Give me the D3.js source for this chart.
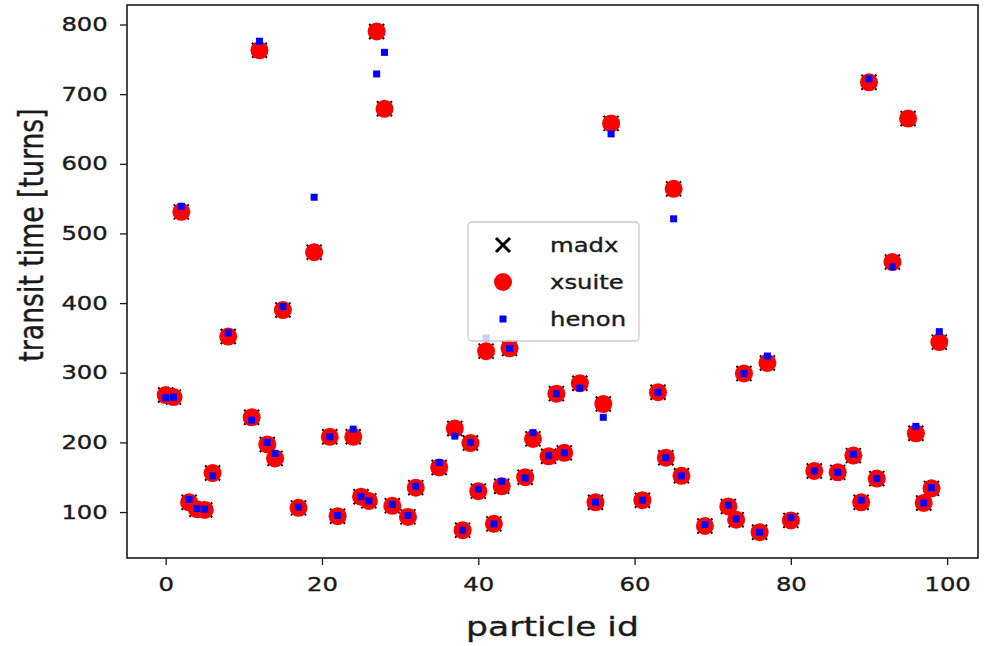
<!DOCTYPE html>
<html>
<head>
<meta charset="utf-8">
<script src="https://cdn.jsdelivr.net/npm/d3@7"></script>
<style>
  body { margin: 0; background: #fff; }
  text { font-family: "DejaVu Sans", sans-serif; fill: #1a1a1a; stroke: #1a1a1a; stroke-width: 0.35px; }
</style>
</head>
<body>
<script>
'use strict';

var width  = 984;
var height = 646;

// lost particles: id, turn of loss per code
var ids    = [0, 1, 2, 3, 4, 5, 6, 8, 11, 12, 13, 14, 15, 17, 19, 21, 22, 24, 25, 26,
              27, 28, 29, 31, 32, 35, 37, 38, 39, 40, 41, 42, 43, 44, 46, 47, 49, 50, 51, 53,
              55, 56, 57, 61, 63, 64, 65, 66, 69, 72, 73, 74, 76, 77, 80, 83, 86, 88, 89, 90,
              91, 93, 95, 96, 97, 98, 99];
var xsuite = [268, 265, 531, 114, 104, 103, 156, 352, 236, 763, 197, 177, 390, 106, 473, 208, 94, 208, 122, 116,
              790, 679, 109, 93, 135, 164, 220, 74, 199, 130, 331, 83, 137, 335, 150, 205, 180, 270, 185, 285,
              114, 255, 658, 117, 272, 178, 564, 152, 80, 108, 89, 299, 71, 314, 88, 159, 157, 181, 114, 717,
              148, 459, 665, 213, 113, 134, 344];
var madx   = xsuite.slice();
var henon  = [264, 265, 539, 118, 105, 104, 152, 357, 232, 776, 200, 184, 395, 107, 552, 208, 95, 219, 122, 116,
              729, 760, 111, 95, 137, 171, 209, 74, 200, 133, 350, 83, 144, 335, 149, 214, 181, 270, 185, 278,
              114, 236, 643, 117, 272, 178, 521, 152, 82, 110, 90, 299, 71, 324, 92, 159, 157, 183, 117, 722,
              148, 452, null, 223, 113, 135, 359];

var xTicks = [0, 20, 40, 60, 80, 100];
var yTicks = [100, 200, 300, 400, 500, 600, 700, 800];
var series = ['madx', 'xsuite', 'henon'];

var plot = { left: 127, right: 978, top: 5, bottom: 558 };
var stretch = 1.28;   // text in the picture is drawn wide

var x = d3.scaleLinear().domain([-4.95, 103.95]).range([plot.left, plot.right]);
var y = d3.scaleLinear().domain([34, 828]).range([plot.bottom, plot.top]);

var svg = d3.select('body').append('svg')
    .attr('width', width)
    .attr('height', height);

// axes
var xAxis = svg.append('g')
    .attr('transform', 'translate(0,' + plot.bottom + ')')
    .call(d3.axisBottom(x).tickValues(xTicks).tickSize(7).tickPadding(13));
var yAxis = svg.append('g')
    .attr('transform', 'translate(' + plot.left + ',0)')
    .call(d3.axisLeft(y).tickValues(yTicks).tickSize(7).tickPadding(8));

[xAxis, yAxis].forEach(function(ax) {
  ax.select('.domain').remove();
  ax.selectAll('.tick line').attr('stroke', '#1a1a1a').attr('stroke-width', 1.3);
  ax.selectAll('.tick text')
    .attr('fill', '#1a1a1a')
    .style('font-size', '19px')
    .attr('transform', 'scale(' + stretch + ',1)');
});

// markers
var pts = ids.map(function(id, i) {
  return { id: id, madx: madx[i], xsuite: xsuite[i], henon: henon[i] };
});

svg.append('g').selectAll('path')
  .data(pts)
  .enter().append('path')
  .attr('d', function(d) {
    var cx = x(d.id), cy = y(d.madx), s = 7.5;
    return 'M' + (cx - s) + ',' + (cy - s) + 'L' + (cx + s) + ',' + (cy + s) +
           'M' + (cx - s) + ',' + (cy + s) + 'L' + (cx + s) + ',' + (cy - s);
  })
  .attr('stroke', '#000')
  .attr('stroke-width', 2);

svg.append('g').selectAll('circle')
  .data(pts)
  .enter().append('circle')
  .attr('cx', function(d) { return x(d.id); })
  .attr('cy', function(d) { return y(d.xsuite); })
  .attr('r', 9)
  .attr('fill', '#ff0000');

svg.append('g').selectAll('rect')
  .data(pts.filter(function(d) { return d.henon != null; }))
  .enter().append('rect')
  .attr('x', function(d) { return x(d.id) - 3.5; })
  .attr('y', function(d) { return y(d.henon) - 3.5; })
  .attr('width', 7)
  .attr('height', 7)
  .attr('fill', '#0000ff');

// frame
svg.append('rect')
  .attr('x', plot.left)
  .attr('y', plot.top)
  .attr('width', plot.right - plot.left)
  .attr('height', plot.bottom - plot.top)
  .attr('fill', 'none')
  .attr('stroke', '#1a1a1a')
  .attr('stroke-width', 1.6);

// axis labels
svg.append('text')
  .attr('transform', 'translate(' + (plot.left + plot.right) / 2 + ',636) scale(' + stretch + ',1)')
  .attr('text-anchor', 'middle')
  .style('font-size', '27px')
  .text('particle id');

svg.append('text')
  .attr('transform', 'translate(43,235) rotate(-90) scale(1,' + stretch + ')')
  .attr('text-anchor', 'middle')
  .style('font-size', '26.7px')
  .text('transit time [turns]');

// legend
var legend = svg.append('g').attr('transform', 'translate(468,222)');
legend.append('rect')
  .attr('width', 171)
  .attr('height', 119)
  .attr('rx', 4)
  .attr('fill', '#fff')
  .attr('fill-opacity', 0.8)
  .attr('stroke', '#cccccc')
  .attr('stroke-width', 1.3);

var rowY = [23, 60, 97];
series.forEach(function(name, i) {
  var cy = rowY[i], cx = 35;
  if (name === 'madx') {
    legend.append('path')
      .attr('d', 'M' + (cx - 7) + ',' + (cy - 7) + 'L' + (cx + 7) + ',' + (cy + 7) +
                 'M' + (cx - 7) + ',' + (cy + 7) + 'L' + (cx + 7) + ',' + (cy - 7))
      .attr('stroke', '#000')
      .attr('stroke-width', 3);
  } else if (name === 'xsuite') {
    legend.append('circle').attr('cx', cx).attr('cy', cy).attr('r', 9).attr('fill', '#ff0000');
  } else {
    legend.append('rect').attr('x', cx - 3.5).attr('y', cy - 3.5)
      .attr('width', 7).attr('height', 7).attr('fill', '#0000ff');
  }
  legend.append('text')
    .attr('transform', 'translate(82,' + (cy + 7) + ') scale(' + stretch + ',1)')
    .style('font-size', '19px')
    .text(name);
});
</script>
</body>
</html>
